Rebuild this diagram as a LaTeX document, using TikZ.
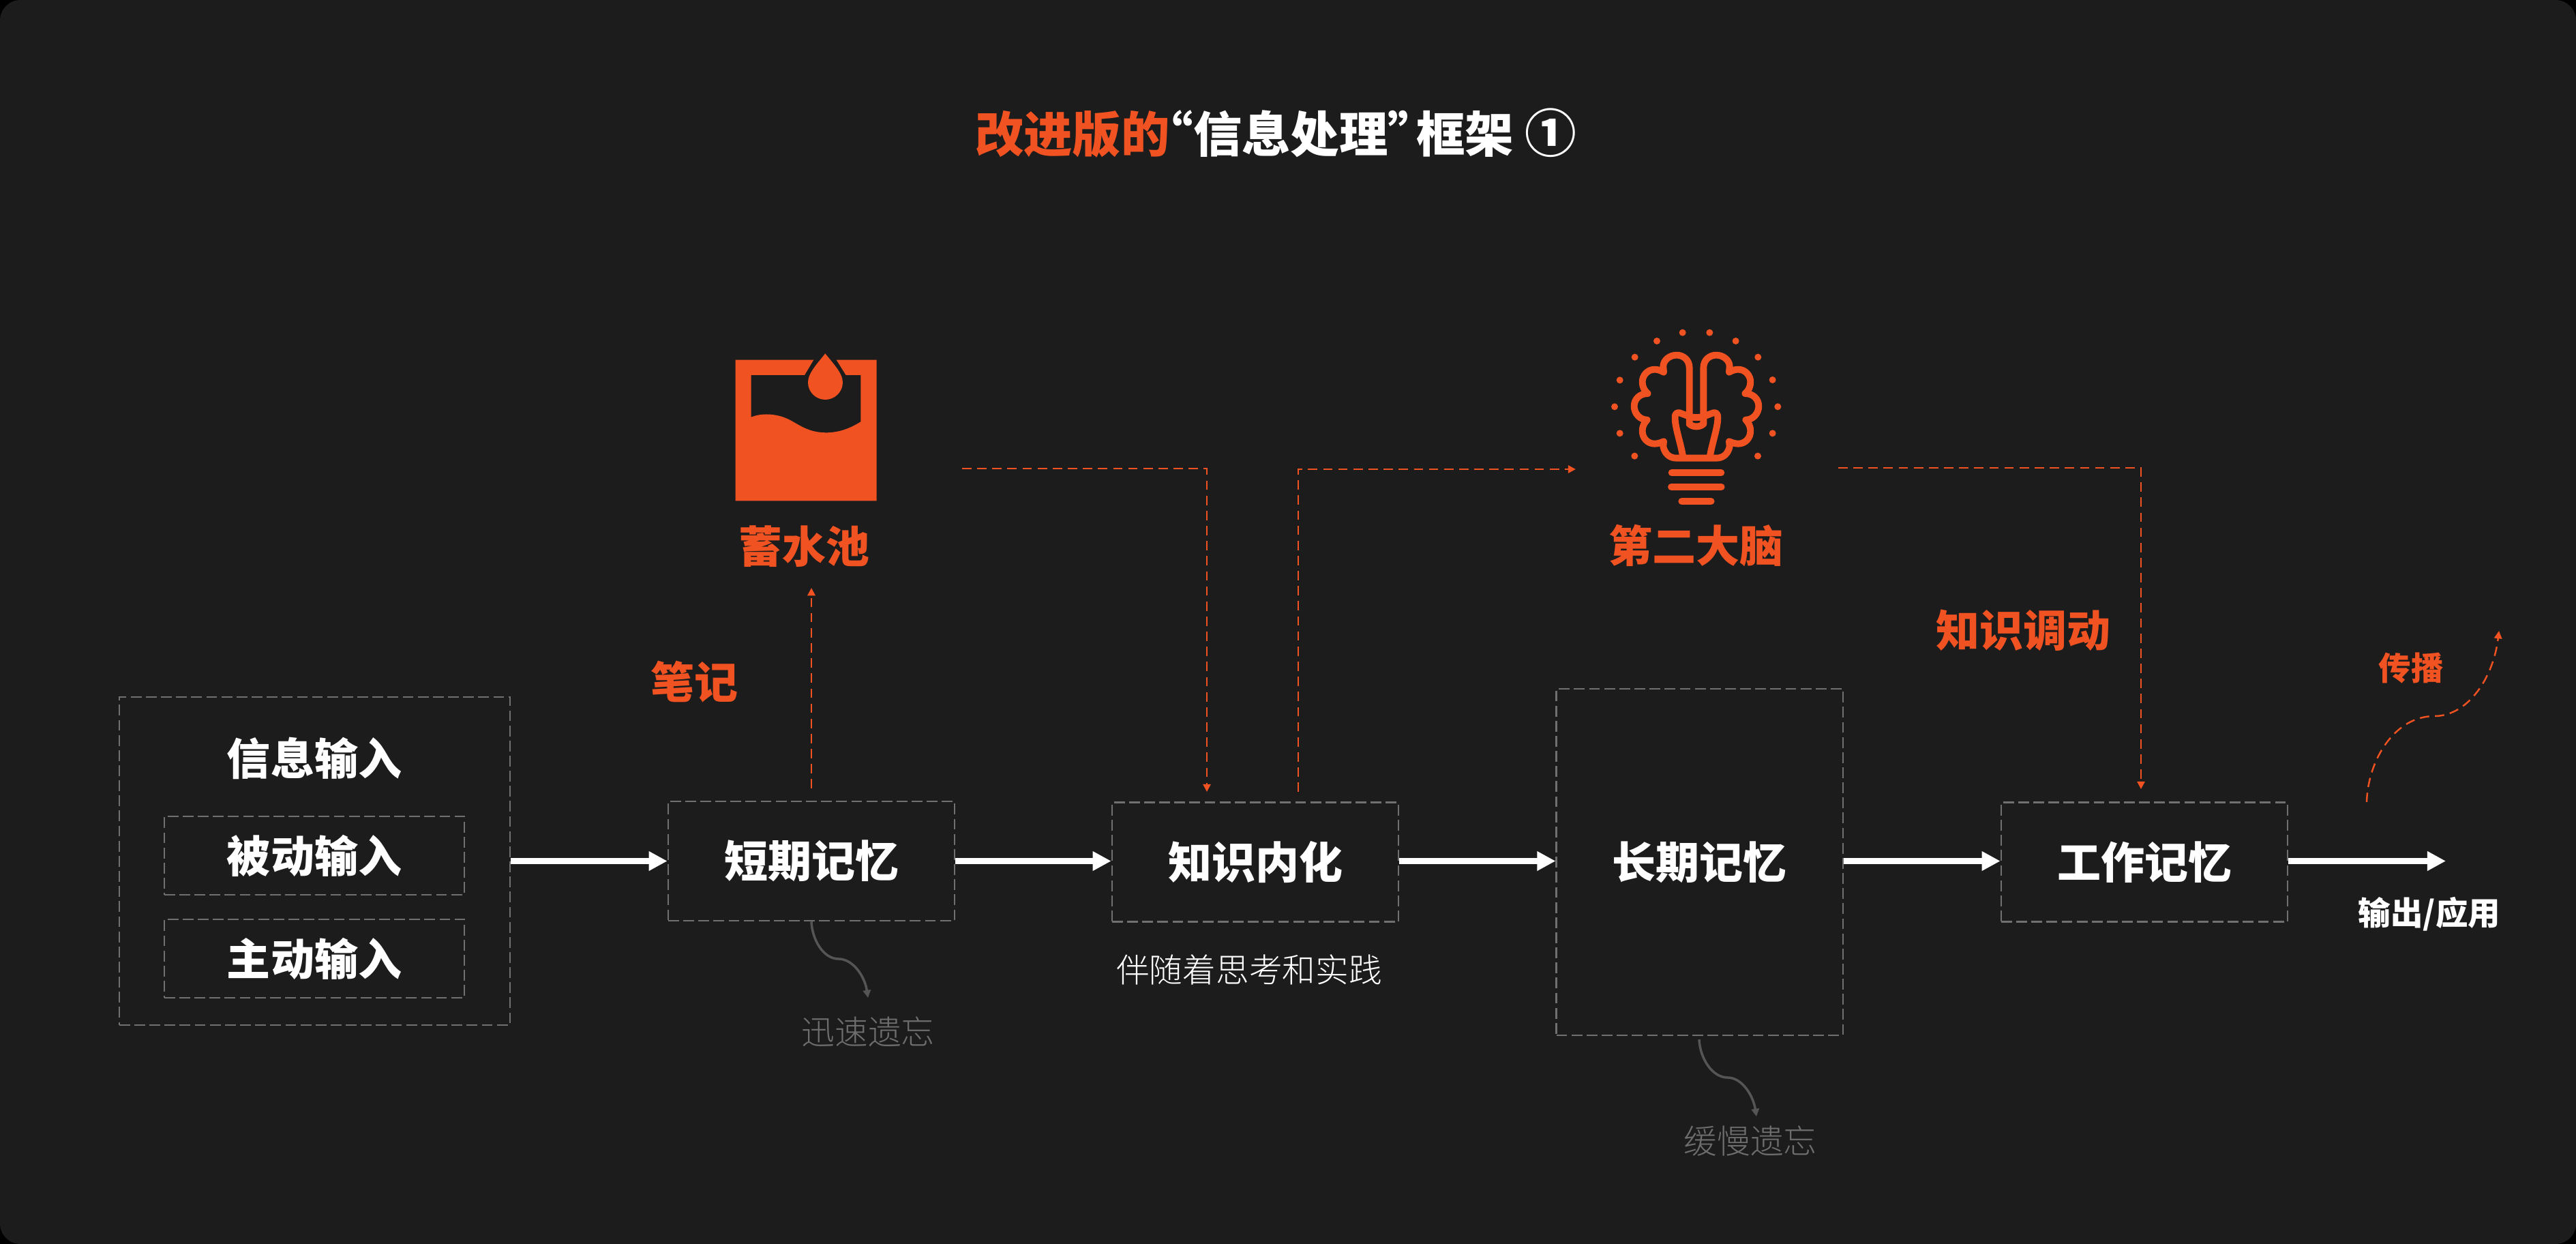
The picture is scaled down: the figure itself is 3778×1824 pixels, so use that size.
\documentclass[tikz,border=0pt]{standalone}
\usepackage{fontspec}
\setmainfont{Noto Sans CJK SC}
\newfontfamily\thincjk{Noto Sans CJK SC Light}
\newfontfamily\heavycjk{Noto Sans CJK SC Black}
\usetikzlibrary{arrows.meta}
\definecolor{canvas}{HTML}{1C1C1C}
\definecolor{accent}{HTML}{F05222}
\definecolor{dashgray}{HTML}{707070}
\definecolor{fadegray}{HTML}{555555}
\definecolor{fadetext}{HTML}{6E6E6E}
\tikzset{
 membox/.style={draw=dashgray,line width=0.7pt,dash pattern=on 4.5pt off 1.8pt,text=white,inner sep=0pt,font=\fontsize{18.2}{20}\selectfont\bfseries},
 sidetext/.style={text=accent,inner sep=0pt,font=\fontsize{18.2}{20}\selectfont\bfseries},
 flowline/.style={draw=white,line width=2.55pt,-{Triangle[length=7.7pt,width=7.7pt]}},
 feedline/.style={draw=accent,line width=0.7pt,dash pattern=on 3.9pt off 2.4pt,-{Triangle[length=3.2pt,width=3.2pt]}},
 fadeline/.style={draw=fadegray,line width=1pt,-{Triangle[length=3.2pt,width=3.2pt]}},
 fadelabel/.style={text=fadetext,inner sep=0pt,font=\fontsize{13.85}{16}\selectfont\thincjk},
 brainline/.style={draw=accent,line width=2.8pt,line cap=round,line join=round}
}
\begin{document}
\begin{tikzpicture}[x=0.01cm,y=-0.01cm]
 \useasboundingbox (0,0) rectangle (3778,1824);
 \fill[black] (0,0) rectangle (3778,1824);
 \fill[canvas,rounded corners=0.3cm] (0,0) rectangle (3778,1824);

 \node[inner sep=0pt,text=white,font=\fontsize{20.3}{24}\selectfont\heavycjk] (title) at (1871,195) {\textcolor{accent}{改进版的}\hspace{-10.5pt}“信息处理”\hspace{-8.5pt}框架 {\fontsize{21.5}{24}\selectfont\normalfont\bfseries ①}};

 \node[membox,minimum width=5.73cm,minimum height=4.81cm] (input) at (461.5,1262.5) {};
 \node[text=white,inner sep=0pt,font=\fontsize{18.2}{20}\selectfont\bfseries] (inputname) at (461,1112) {信息输入};
 \node[membox,minimum width=4.4cm,minimum height=1.15cm] (passive) at (461,1254.5) {被动输入};
 \node[membox,minimum width=4.4cm,minimum height=1.15cm] (active) at (461,1405.5) {主动输入};
 \node[membox,minimum width=4.2cm,minimum height=1.75cm] (short) at (1190,1262.5) {短期记忆};
 \node[membox,minimum width=4.2cm,minimum height=1.75cm] (digest) at (1841,1264) {知识内化};
 \node[membox,minimum width=4.2cm,minimum height=5.08cm] (long) at (2492.75,1264) {长期记忆};
 \node[membox,minimum width=4.2cm,minimum height=1.75cm] (work) at (3145,1264) {工作记忆};

 \coordinate (outend) at (3587,1262.5);
 \draw[flowline] (input.east) -- (short.west);
 \draw[flowline] (short.east) -- (short.east -| digest.west);
 \draw[flowline] (short.east -| digest.east) -- (short.east -| long.west);
 \draw[flowline] (short.east -| long.east) -- (short.east -| work.west);
 \draw[flowline] (short.east -| work.east) -- (outend);
 \node[text=white,inner sep=0pt,font=\fontsize{13.5}{16}\selectfont\bfseries] (output) at (3563,1340) {输出/应用};

 \begin{scope}[shift={(1000,450)},scale=0.3333]
 \fill[accent] (236,233) -- (580,233) -- (540,300) -- (305,300) -- (305,485) .. controls (340,470) and (400,465) .. (460,490) .. controls (510,512) and (550,553) .. (635,553) .. controls (690,553) and (740,535) .. (787,505) -- (787,300) -- (722,300) -- (680,233) -- (857,233) -- (857,853) -- (236,853) -- cycle;
 \fill[accent] (631,205) .. controls (600,245) and (555,290) .. (555,332) .. controls (555,375) and (590,408) .. (631,408) .. controls (672,408) and (708,375) .. (708,332) .. controls (708,290) and (662,245) .. (631,205) -- cycle;
 \end{scope}
 \node[sidetext] (pool) at (1179,801) {蓄水池};

 \begin{scope}[shift={(2300,450)},scale=0.3333]
 \fill[accent] (503,113) circle (15);
 \fill[accent] (622,113) circle (15);
 \fill[accent] (390,150) circle (15);
 \fill[accent] (737,150) circle (15);
 \fill[accent] (293,221) circle (15);
 \fill[accent] (835,221) circle (15);
 \fill[accent] (227,322) circle (15);
 \fill[accent] (899,321) circle (15);
 \fill[accent] (204,439) circle (15);
 \fill[accent] (922,439) circle (15);
 \fill[accent] (227,556) circle (15);
 \fill[accent] (899,556) circle (15);
 \fill[accent] (292,656) circle (15);
 \fill[accent] (834,656) circle (15);
 \draw[brainline] (533,482) -- (533,268) .. controls (533,232) and (505,212) .. (477,212) .. controls (445,212) and (418,235) .. (418,262) -- (420,287) .. controls (405,279) and (393,275) .. (380,275) .. controls (348,275) and (326,303) .. (326,330) .. controls (326,350) and (335,370) .. (350,381) .. controls (315,381) and (290,405) .. (290,437) .. controls (290,468) and (315,497) .. (347,497) .. controls (335,510) and (326,525) .. (326,545) .. controls (326,578) and (350,602) .. (380,602) .. controls (393,602) and (405,598) .. (420,592) -- (418,615) .. controls (425,645) and (445,665) .. (475,665) -- (653,665) .. controls (683,665) and (703,645) .. (710,615) -- (708,592) .. controls (723,598) and (735,602) .. (748,602) .. controls (778,602) and (802,578) .. (802,545) .. controls (802,525) and (793,510) .. (781,497) .. controls (813,497) and (838,468) .. (838,437) .. controls (838,405) and (813,381) .. (778,381) .. controls (793,370) and (802,350) .. (802,330) .. controls (802,303) and (780,275) .. (748,275) .. controls (735,275) and (723,279) .. (708,287) -- (710,262) .. controls (710,235) and (683,212) .. (651,212) .. controls (623,212) and (595,232) .. (595,268) -- (595,482);
 \draw[brainline] (505,660) .. controls (495,600) and (470,530) .. (470,490) .. controls (468,470) and (478,463) .. (490,466) -- (533,482) .. controls (550,488) and (578,488) .. (595,482) -- (638,466) .. controls (650,463) and (660,470) .. (658,490) .. controls (658,530) and (633,600) .. (623,660);
 \draw[brainline] (533,482) -- (533,515) .. controls (548,530) and (580,530) .. (595,515) -- (595,482);
 \draw[brainline] (455,730) -- (673,730);
 \draw[brainline] (453,792) -- (674,792);
 \draw[brainline] (499,855) -- (629,855);
 \end{scope}
 \node[sidetext] (brain) at (2487,800) {第二大脑};

 \node[sidetext] (notes) at (1018,1000) {笔记};
 \node[sidetext] (recall) at (2967,924) {知识调动};
 \node[text=accent,inner sep=0pt,font=\fontsize{13.5}{16}\selectfont\bfseries] (spread) at (3536,980) {传播};

 \coordinate (poolin) at (1190,862);
 \coordinate (poolout) at (1411,687);
 \coordinate (digestin) at (1770,1161);
 \coordinate (digestout) at (1904,1161);
 \coordinate (brainin) at (2311,688);
 \coordinate (brainout) at (2696,686);
 \coordinate (workin) at (3140,1157);
 \coordinate (spreadstart) at (3471,1176);
 \coordinate (spreadend) at (3665,925);
 \draw[feedline,shorten <=5pt] (short.north) -- (poolin);
 \draw[feedline] (poolout) -| (digestin);
 \draw[feedline] (digestout) |- (brainin);
 \draw[feedline] (brainout) -| (workin);
 \draw[feedline] (spreadstart) .. controls (3473,1113) and (3513,1050) .. (3570,1050) .. controls (3620,1050) and (3657,993) .. (spreadend);

 \node[text=white,inner sep=0pt,font=\fontsize{13.85}{16}\selectfont\thincjk] (practice) at (1832,1422) {伴随着思考和实践};
 \node[fadelabel] (fastgone) at (1273,1513) {迅速遗忘};
 \node[fadelabel] (slowgone) at (2567,1673) {缓慢遗忘};
 \coordinate (fastend) at (1273,1463);
 \coordinate (slowstart) at (2492,1524);
 \coordinate (slowend) at (2576,1637);
 \draw[fadeline] (short.south) .. controls (1191,1377) and (1207,1406) .. (1230,1406) .. controls (1250,1406) and (1268,1430) .. (fastend);
 \draw[fadeline] (slowstart) .. controls (2493,1550) and (2510,1580) .. (2534,1580) .. controls (2554,1580) and (2571,1605) .. (slowend);
\end{tikzpicture}
\end{document}
